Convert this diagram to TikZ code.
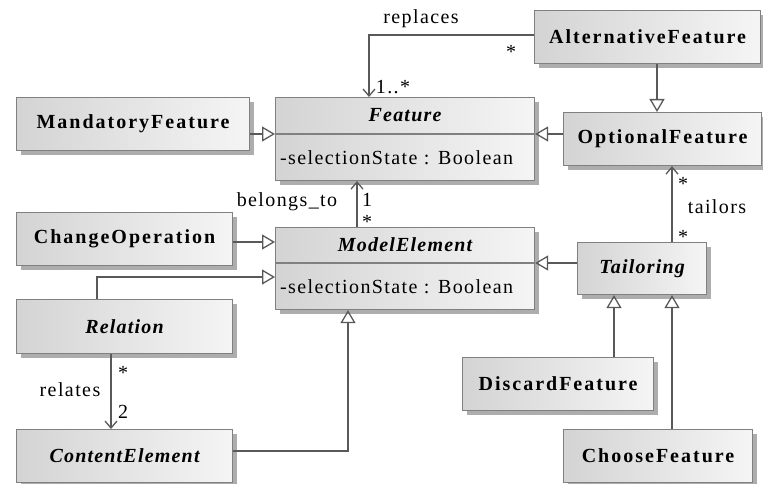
\documentclass[tikz,border=0pt]{standalone}
\usepackage{fontspec}
\setmainfont{Liberation Serif}
\usetikzlibrary{arrows.meta,shadows,calc}

\begin{document}
\begin{tikzpicture}[x=1pt,y=-1pt,
  txt/.style={font=\fontsize{20}{24}\selectfont\addfontfeatures{LetterSpace=7}, inner sep=1pt},
  cls/.style={draw=black!50, line width=1.1pt, left color=black!17, right color=black!4,
    drop shadow={shadow xshift=4pt, shadow yshift=-4pt, fill=black!32, opacity=1},
    anchor=north west, inner sep=0pt},
  clsname/.style={font=\fontsize{20}{24}\selectfont\bfseries\addfontfeatures{LetterSpace=10}},
  absname/.style={font=\fontsize{20}{24}\selectfont\bfseries\itshape\addfontfeatures{LetterSpace=6}},
  divider/.style={draw=black!50, line width=1.1pt},
  link/.style={draw=black!65, line width=1.4pt},
  gen/.style={link, -{Triangle[open, length=13pt, width=15pt, line width=1.3pt]}},
  assoc/.style={link, -{Straight Barb[length=7pt, width=12pt, line width=1.3pt]}}
]
\useasboundingbox (0,0) rectangle (763,484);

% ---- classes ----
\node[cls, clsname, minimum width=226pt, minimum height=53pt] (alt) at (534,10) {AlternativeFeature};
\node[cls, clsname, minimum width=198pt, minimum height=53pt] (opt) at (563,112) {OptionalFeature};
\node[cls, clsname, minimum width=233pt, minimum height=53pt] (mand) at (16,97) {MandatoryFeature};
\node[cls, clsname, minimum width=216pt, minimum height=53pt] (chg) at (16,212) {ChangeOperation};
\node[cls, absname, minimum width=216pt, minimum height=54pt] (rel) at (16,299) {Relation};
\node[cls, absname, minimum width=216pt, minimum height=53pt] (cont) at (16,429) {ContentElement};
\node[cls, absname, minimum width=129pt, minimum height=52pt] (tail) at (577,242) {Tailoring};
\node[cls, clsname, minimum width=191pt, minimum height=53pt] (disc) at (462,357) {DiscardFeature};
\node[cls, clsname, minimum width=189pt, minimum height=53pt] (choose) at (563,429) {ChooseFeature};

% Feature: name compartment and attribute compartment
\node[cls, minimum width=259pt, minimum height=83pt] (feat) at (275,97) {};
\coordinate (fdiv) at ($(feat.north west)+(0,37)$);
\draw[divider] (fdiv) -- (fdiv -| feat.east);
\node[absname] (featT) at ($(feat.north)!0.5!(fdiv -| feat.north)$) {Feature};
\node[txt, anchor=west] (featA) at ($(fdiv)!0.5!(feat.south west)+(4,0)$) {-selectionState : Boolean};

% ModelElement: name compartment and attribute compartment
\node[cls, minimum width=259pt, minimum height=82pt] (model) at (275,227) {};
\coordinate (mdiv) at ($(model.north west)+(0,36)$);
\draw[divider] (mdiv) -- (mdiv -| model.east);
\node[absname] (modelT) at ($(model.north)!0.5!(mdiv -| model.north)$) {ModelElement};
\node[txt, anchor=west] (modelA) at ($(mdiv)!0.5!(model.south west)+(4,0)$) {-selectionState : Boolean};

% ---- routing helpers ----
\coordinate (xAO) at (657,0);
\coordinate (xRep) at (369,0);
\coordinate (yRep) at (0,35);
\coordinate (xBel) at (357,0);
\coordinate (yChg) at (0,242);
\coordinate (xRel) at (97,0);
\coordinate (yRel) at (0,277);
\coordinate (xRelates) at (111,0);
\coordinate (xCont) at (348,0);
\coordinate (yCont) at (0,451);
\coordinate (xTail) at (672,0);
\coordinate (xDisc) at (614,0);

% ---- generalizations ----
\draw[gen] (mand.east |- fdiv) -- (feat.west |- fdiv);
\draw[gen] (opt.west |- fdiv) -- (feat.east |- fdiv);
\draw[gen] (alt.south -| xAO) -- (opt.north -| xAO);
\draw[gen] (chg.east |- yChg) -- (model.west |- yChg);
\draw[gen] (rel.north -| xRel) -- (xRel |- yRel) -- (model.west |- yRel);
\draw[gen] (cont.east |- yCont) -- (xCont |- yCont) -- (model.south -| xCont);
\draw[gen] (tail.west |- mdiv) -- (model.east |- mdiv);
\draw[gen] (disc.north -| xDisc) -- (tail.south -| xDisc);
\draw[gen] (choose.north -| xTail) -- (tail.south -| xTail);

% ---- associations ----
\draw[assoc] (alt.west |- yRep) -- (xRep |- yRep) -- (feat.north -| xRep);
\draw[assoc] (model.north -| xBel) -- (feat.south -| xBel);
\draw[assoc] (rel.south -| xRelates) -- (cont.north -| xRelates);
\draw[assoc] (tail.north -| xTail) -- (opt.south -| xTail);

% ---- labels and multiplicities ----
\node[txt] (lRep) at (421,19) {replaces};
\node[txt] (mRepA) at (511,52) {*};
\node[txt] (mRepB) at (393,87) {1..*};
\node[txt] (lBel) at (287,202) {belongs\_to};
\node[txt] (mBelA) at (367,200) {1};
\node[txt] (mBelB) at (367,222) {*};
\node[txt] (lRelates) at (70,390) {relates};
\node[txt] (mRelA) at (123,373) {*};
\node[txt] (mRelB) at (123,412) {2};
\node[txt] (lTail) at (717,207) {tailors};
\node[txt] (mTailA) at (683,184) {*};
\node[txt] (mTailB) at (683,237) {*};
\end{tikzpicture}
\end{document}
